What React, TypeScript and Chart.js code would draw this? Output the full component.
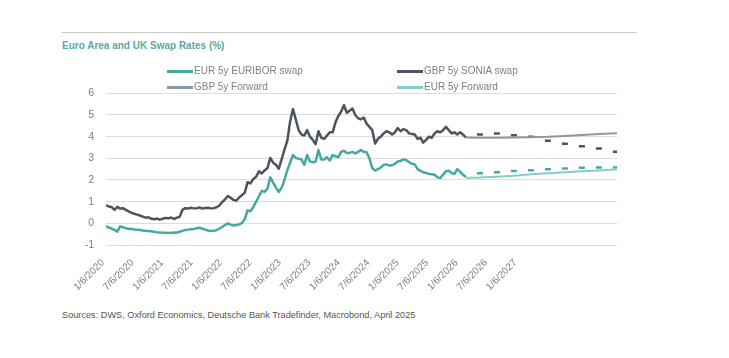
import React, { useEffect, useRef } from "react";
import { Chart, registerables } from "chart.js";

Chart.register(...registerables);

// ---- DATA ----
// History: semi-monthly observations starting Jan 2020 (x unit = months since Jan 2020)
const HIST_STEP = 0.5;
const GBP_SONIA = [
  0.83, 0.78, 0.75, 0.62, 0.76, 0.68, 0.7, 0.62, 0.55, 0.48,
  0.44, 0.4, 0.36, 0.31, 0.26, 0.28, 0.21, 0.19, 0.22, 0.17,
  0.21, 0.25, 0.23, 0.27, 0.2, 0.26, 0.3, 0.62, 0.7, 0.68,
  0.72, 0.69, 0.7, 0.73, 0.68, 0.71, 0.72, 0.69, 0.7, 0.74,
  0.82, 0.98, 1.1, 1.26, 1.18, 1.08, 1.04, 1.19, 1.3, 1.42,
  1.9, 1.84, 2.05, 2.15, 2.4, 2.3, 2.44, 2.55, 3.02, 2.8,
  2.7, 2.52, 2.95, 3.4, 3.8, 4.7, 5.27, 4.8, 4.3, 4.1,
  4.05, 4.3, 4.0, 3.85, 3.65, 4.25, 3.95, 3.9, 4.05, 4.2,
  4.2, 4.65, 4.95, 5.15, 5.45, 5.1, 5.2, 5.3, 5.0, 4.85,
  4.8, 4.88, 4.6, 4.45, 4.3, 3.68, 3.9, 4.0, 4.15, 4.25,
  4.2, 4.1, 4.2, 4.4, 4.25, 4.35, 4.3, 4.15, 4.12, 4.1,
  3.9, 3.95, 3.72, 3.85, 4.0, 3.95, 4.15, 4.25, 4.2, 4.3,
  4.45, 4.3, 4.15, 4.2, 4.1, 4.2, 4.1, 3.97,
];
const EUR_EURIBOR = [
  -0.12, -0.2, -0.24, -0.3, -0.38, -0.14, -0.18, -0.22, -0.26, -0.25,
  -0.29, -0.3, -0.31, -0.33, -0.34, -0.36, -0.37, -0.39, -0.41, -0.42,
  -0.44, -0.43, -0.45, -0.44, -0.42, -0.43, -0.39, -0.35, -0.31, -0.29,
  -0.27, -0.26, -0.23, -0.2, -0.25, -0.29, -0.33, -0.35, -0.34, -0.32,
  -0.24, -0.17, -0.08, 0.0, -0.06, -0.1, -0.08, -0.05, 0.02, 0.2,
  0.6, 0.56, 0.75, 1.0, 1.25, 1.5, 1.45, 1.6, 2.12, 1.88,
  1.65, 1.45, 1.65, 2.0, 2.45, 2.8, 3.15, 3.02, 2.98, 2.95,
  2.7, 3.15, 2.85, 2.82, 2.85, 3.38, 2.95, 2.95, 3.05, 2.9,
  3.15, 3.1, 3.05, 3.3, 3.35, 3.25, 3.25, 3.3, 3.22, 3.3,
  3.38, 3.3, 3.28, 3.0, 2.55, 2.43, 2.5, 2.57, 2.7, 2.72,
  2.66, 2.68, 2.75, 2.85, 2.88, 2.95, 2.92, 2.82, 2.75, 2.72,
  2.5, 2.42, 2.36, 2.32, 2.28, 2.26, 2.24, 2.12, 2.1, 2.25,
  2.4, 2.43, 2.32, 2.28, 2.5, 2.38, 2.25, 2.14,
];

// Forward curves (months since Jan 2020)
const FWD_MONTHS = [63.5, 66, 69, 72, 75, 78, 81, 84, 87, 90.2];
const GBP_FWD = [3.96, 3.95, 3.95, 3.96, 3.97, 3.99, 4.03, 4.08, 4.12, 4.16];
const EUR_FWD = [2.1, 2.11, 2.15, 2.2, 2.26, 2.31, 2.36, 2.4, 2.44, 2.5];

// Quarterly forecast marks (months since Jan 2020)
const FCST_MONTHS = [66, 69, 72, 75, 78, 81, 84, 87, 90];
const GBP_FCST = [4.1, 4.15, 4.07, 3.99, 3.81, 3.67, 3.56, 3.45, 3.3];
const EUR_FCST = [2.31, 2.36, 2.41, 2.45, 2.49, 2.53, 2.56, 2.58, 2.58];

// Axis
const X_TICK_LABELS = [
  "1/6/2020", "7/6/2020", "1/6/2021", "7/6/2021", "1/6/2022", "7/6/2022",
  "1/6/2023", "7/6/2023", "1/6/2024", "7/6/2024", "1/6/2025", "7/6/2025",
  "1/6/2026", "7/6/2026", "1/6/2027",
];
const X_TICK_STEP = 5.2; // spacing of the label slots, as drawn in the original
const X_MIN = 0;
const X_MAX = 90.2;
const Y_MIN = -1;
const Y_MAX = 6;

const TITLE = "Euro Area and UK Swap Rates (%)";
const SOURCE = "Sources: DWS, Oxford Economics, Deutsche Bank Tradefinder, Macrobond, April 2025";

const C_EUR = "#45a9a0";
const C_GBP = "#4b5560";
const C_GBP_FWD = "#8c98a4";
const C_EUR_FWD = "#86cdc8";

const FONT = "'Liberation Sans', Arial, sans-serif";

const LEGEND = [
  { label: "EUR 5y EURIBOR swap", color: C_EUR, left: 167, top: 71 },
  { label: "GBP 5y SONIA swap", color: C_GBP, left: 397, top: 71 },
  { label: "GBP 5y Forward", color: C_GBP_FWD, left: 167, top: 87 },
  { label: "EUR 5y Forward", color: C_EUR_FWD, left: 397, top: 87 },
];

const toPts = (xs: number[], ys: number[]) => ys.map((y, i) => ({ x: xs[i], y }));
const histPts = (ys: number[]) => ys.map((y, i) => ({ x: i * HIST_STEP, y }));

export default function App() {
  const ref = useRef<HTMLCanvasElement | null>(null);

  useEffect(() => {
    document.body.style.margin = "0";
    const ctx = ref.current!.getContext("2d")!;
    const lineBase = { pointRadius: 0, tension: 0, fill: false, borderJoinStyle: "round" as const };
    const chart = new Chart(ctx, {
      type: "line",
      data: {
        datasets: [
          { label: "EUR 5y EURIBOR swap", data: histPts(EUR_EURIBOR), borderColor: C_EUR, borderWidth: 2.5, ...lineBase },
          { label: "GBP 5y SONIA swap", data: histPts(GBP_SONIA), borderColor: C_GBP, borderWidth: 2.5, ...lineBase },
          { label: "GBP 5y Forward", data: toPts(FWD_MONTHS, GBP_FWD), borderColor: C_GBP_FWD, borderWidth: 2, ...lineBase },
          { label: "EUR 5y Forward", data: toPts(FWD_MONTHS, EUR_FWD), borderColor: C_EUR_FWD, borderWidth: 2, ...lineBase },
          {
            label: "GBP forecast", data: toPts(FCST_MONTHS, GBP_FCST), showLine: false,
            pointStyle: "line", pointRadius: 3, pointBorderWidth: 2.5,
            borderColor: C_GBP, pointBorderColor: C_GBP, backgroundColor: C_GBP,
          },
          {
            label: "EUR forecast", data: toPts(FCST_MONTHS, EUR_FCST), showLine: false,
            pointStyle: "line", pointRadius: 3, pointBorderWidth: 2.5,
            borderColor: C_EUR, pointBorderColor: C_EUR, backgroundColor: C_EUR,
          },
        ],
      },
      options: {
        animation: false,
        responsive: false,
        events: [],
        layout: { padding: { top: 10, right: 112, left: 0, bottom: 0 } },
        plugins: { legend: { display: false }, tooltip: { enabled: false } },
        scales: {
          x: {
            type: "linear",
            min: X_MIN,
            max: X_MAX,
            grid: { display: false, drawTicks: false },
            border: { display: false },
            afterBuildTicks: (s: any) => {
              s.ticks = X_TICK_LABELS.map((_, i) => ({ value: X_MIN + i * X_TICK_STEP }));
            },
            afterFit: (s: any) => { s.height = 55; },
            ticks: {
              autoSkip: false,
              minRotation: 45,
              maxRotation: 45,
              padding: 12,
              labelOffset: -3,
              color: "#808080",
              font: { family: FONT, size: 10 },
              callback: (_v: any, i: number) => X_TICK_LABELS[i],
            },
          },
          y: {
            min: Y_MIN,
            max: Y_MAX,
            grid: { color: "#dcdcdc", lineWidth: 1, drawTicks: false },
            border: { display: false },
            afterFit: (s: any) => { s.width = 106; },
            ticks: {
              stepSize: 1,
              padding: 12,
              color: "#808080",
              font: { family: FONT, size: 10.5 },
            },
          },
        },
      },
    });
    return () => chart.destroy();
  }, []);

  return (
    <div style={{ position: "relative", width: 729, height: 358, background: "#fff", fontFamily: FONT, overflow: "hidden" }}>
      <div style={{ position: "absolute", left: 62, top: 32, width: 575, height: 1, background: "#c8c8c8" }} />
      <div style={{ position: "absolute", left: 62, top: 39, fontSize: 10, fontWeight: "bold", color: "#5aa9a3", lineHeight: "14px", whiteSpace: "nowrap" }}>
        {TITLE}
      </div>
      <canvas ref={ref} width={729} height={225} style={{ position: "absolute", left: 0, top: 75, width: 729, height: 225 }} />
      {LEGEND.map((l) => (
        <div key={l.label} style={{ position: "absolute", left: l.left, top: l.top - 7, height: 14, display: "flex", alignItems: "center", whiteSpace: "nowrap" }}>
          <span style={{ display: "inline-block", width: 26, height: 3, background: l.color, marginRight: 1 }} />
          <span style={{ fontSize: 10, color: "#808080", lineHeight: "14px" }}>{l.label}</span>
        </div>
      ))}
      <div style={{ position: "absolute", left: 62, top: 308, fontSize: 9.2, color: "#555", lineHeight: "14px", whiteSpace: "nowrap" }}>
        {SOURCE}
      </div>
    </div>
  );
}
